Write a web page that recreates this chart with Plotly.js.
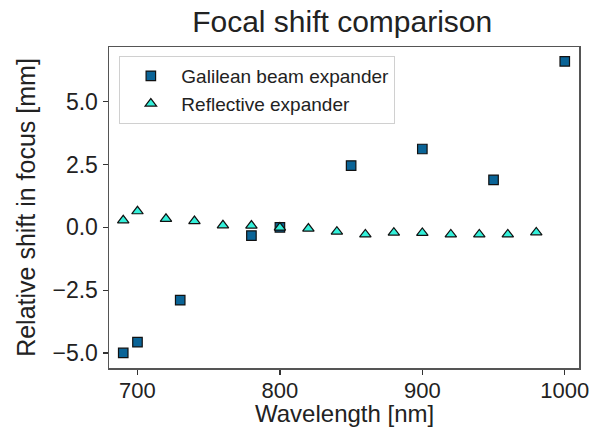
<!DOCTYPE html>
<html>
<head>
<meta charset="utf-8">
<script src="https://cdn.plot.ly/plotly-3.0.1.min.js"></script>
<style>html,body{margin:0;padding:0;background:#fff;}</style>
</head>
<body>
<div id="chart" style="width:590px;height:430px;"></div>
<script>
const galWavelength = [690, 700, 730, 780, 800, 850, 900, 950, 1000];
const galShift = [-5.0, -4.57, -2.9, -0.33, 0.0, 2.46, 3.12, 1.89, 6.61];
const refWavelength = [690, 700, 720, 740, 760, 780, 800, 820, 840, 860, 880, 900, 920, 940, 960, 980];
const refShift = [0.28, 0.64, 0.34, 0.25, 0.08, 0.07, -0.01, -0.05, -0.17, -0.28, -0.21, -0.22, -0.28, -0.28, -0.28, -0.2];
const yTicks = [-5.0, -2.5, 0.0, 2.5, 5.0];
const xTicks = [700, 800, 900, 1000];
const xTitle = 'Wavelength [nm]';

const font = "Liberation Sans, Arial, sans-serif";
const data = [
  {x: galWavelength, y: galShift, type: 'scatter', mode: 'markers', name: 'Galilean beam expander',
   marker: {symbol: 'square', size: 9.5, color: '#0a6497', line: {color: '#111', width: 1.2}}},
  {x: refWavelength, y: refShift, type: 'scatter', mode: 'markers', name: 'Reflective expander',
   marker: {symbol: 'triangle-up', size: 10, color: '#33f0da', line: {color: '#111', width: 1.2}}}
];
const layout = {
  width: 590, height: 430,
  margin: {l: 109, r: 11, t: 47, b: 62},
  paper_bgcolor: '#fff', plot_bgcolor: '#fff',
  font: {family: font, color: '#222'},
  title: {text: 'Focal shift comparison', font: {size: 30, color: '#222'}, x: 0.58, xanchor: 'center', y: 0.949, yanchor: 'middle'},
  xaxis: {range: [680, 1010], tickvals: xTicks, ticks: 'outside', ticklen: 5, tickwidth: 1.2, tickcolor: '#333',
          showgrid: false, zeroline: false, showline: true, mirror: true, linecolor: '#555', linewidth: 1.5,
          tickfont: {size: 22, color: '#222'}, automargin: false, ticklabeloverflow: 'allow', ticklabelstandoff: -3},
  yaxis: {range: [-5.6, 7.18], tickvals: yTicks, tickformat: '.1f', ticks: 'outside', ticklen: 5, tickwidth: 1.2, tickcolor: '#333',
          showgrid: false, zeroline: false, showline: true, mirror: true, linecolor: '#555', linewidth: 1.5,
          tickfont: {size: 23, color: '#222'}, automargin: false,
          title: {text: 'Relative shift in focus [mm]', font: {size: 25, color: '#222'}, standoff: 9}},
  annotations: [{text: xTitle, xref: 'paper', yref: 'paper', x: 0.5, y: 0, xanchor: 'center', yanchor: 'top',
                 yshift: -30, showarrow: false, font: {size: 24, color: '#222'}}],
  legend: {x: 0.022, y: 0.972, xanchor: 'left', yanchor: 'top', bgcolor: '#fff', bordercolor: '#d0d0d0', borderwidth: 1,
           font: {size: 19, color: '#222'}, itemwidth: 51, tracegroupgap: 2},
  showlegend: true
};
Plotly.newPlot('chart', data, layout, {displayModeBar: false, staticPlot: true});
</script>
</body>
</html>
